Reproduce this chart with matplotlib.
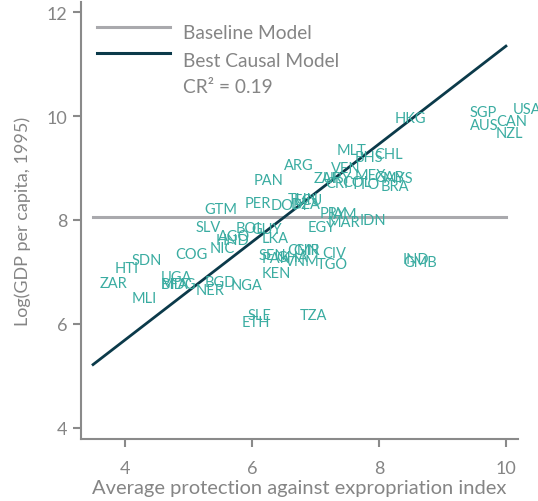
import matplotlib
matplotlib.use("Agg")
import matplotlib.pyplot as plt
from matplotlib.lines import Line2D

plt.rcParams['font.family'] = ['Lato', 'DejaVu Sans']

countries = ["AGO","ARG","AUS","BFA","BGD","BHS","BOL","BRA","CAN","CHL","CIV","CMR","COG","COL",
             "CRI","DOM","DZA","ECU","EGY","ETH","GAB","GHA","GIN","GMB","GTM","GUY","HKG","HND",
             "HTI","IDN","IND","JAM","KEN","LKA","MAR","MDG","MEX","MLI","MLT","MYS","NER","NGA",
             "NIC","NZL","PAK","PAN","PER","PRY","SDN","SEN","SGP","SLE","SLV","TGO","TTO","TUN",
             "TZA","UGA","URY","USA","VEN","VNM","ZAF","ZAR"]
avexpr = [5.36,6.39,9.32,4.45,5.14,7.50,5.64,7.91,9.73,7.82,7.00,6.45,4.68,7.32,
          7.05,6.18,6.50,6.55,6.77,5.73,7.82,6.27,6.55,8.27,5.14,5.89,8.14,5.32,
          3.73,7.59,8.27,7.09,6.05,6.05,7.09,4.45,7.50,4.00,7.23,7.95,5.00,5.55,
          5.23,9.73,6.05,5.91,5.77,6.95,4.00,6.00,9.32,5.82,5.00,6.91,7.45,6.45,
          6.64,4.45,7.00,10.00,7.14,6.41,6.86,3.50]
logpgp95 = [7.77,9.13,9.90,6.85,6.88,9.29,7.93,8.73,9.99,9.34,7.44,7.50,7.42,8.81,
            8.79,8.36,8.39,8.47,7.95,6.11,8.90,7.37,7.49,7.27,8.29,7.90,10.05,7.69,
            7.15,8.07,7.33,8.19,7.06,7.73,8.04,6.84,8.94,6.57,9.43,8.89,6.73,6.82,
            7.54,9.76,7.35,8.84,8.40,8.21,7.31,7.40,10.15,6.25,7.95,7.22,8.77,8.48,
            6.25,6.97,8.89,10.22,9.07,7.28,8.89,6.87]

baseline_value = 8.06
iv_intercept = 1.91
iv_slope = 0.944
line_x = [3.5, 10.0]
cr2 = 0.19

label_color = '#3aaca1'
gray_line = '#a9a9ad'
dark_line = '#0b3a4a'
axis_gray = '#8a8a8a'
text_gray = '#858585'

fig = plt.figure(figsize=(5.38, 5.02), dpi=100)
ax = fig.add_axes([81/538, 1-440/502, 437/538, 437/502])

ax.plot(line_x, [baseline_value, baseline_value], color=gray_line, lw=2.2, zorder=2)
ax.plot(line_x, [iv_intercept + iv_slope*x for x in line_x], color=dark_line, lw=2.0, zorder=3)

for c, xv, yv in zip(countries, avexpr, logpgp95):
    ax.annotate(c, (xv, yv), xytext=(7, -4), textcoords='offset pixels',
                ha='left', va='center', fontsize=10.5, color=label_color, zorder=4,
                annotation_clip=False)

ax.set_xlim(3.31, 10.19)
ax.set_ylim(3.78, 12.2)
ax.set_xticks([4, 6, 8, 10])
ax.set_yticks([4, 6, 8, 10, 12])

for s in ['top', 'right']:
    ax.spines[s].set_visible(False)
for s in ['left', 'bottom']:
    ax.spines[s].set_color(axis_gray)
    ax.spines[s].set_linewidth(1.5)
ax.tick_params(axis='both', colors=axis_gray, labelcolor=text_gray, labelsize=13,
               length=6, width=1.5, direction='out')
ax.tick_params(axis='x', pad=9)
ax.tick_params(axis='y', pad=4)

ax.set_xlabel("Average protection against expropriation index", fontsize=14.5,
              color=text_gray, labelpad=2)
ax.set_ylabel("Log(GDP per capita, 1995)", fontsize=13, color=text_gray, labelpad=11)

# legend (manual)
tr = ax.transAxes
ax.add_line(Line2D([0.0366, 0.2037], [0.9428, 0.9428], transform=tr, color=gray_line, lw=2.2))
ax.add_line(Line2D([0.0366, 0.2037], [0.8833, 0.8833], transform=tr, color=dark_line, lw=2.2))
ax.text(0.2334, 0.9300, "Baseline Model", transform=tr, fontsize=13.8, color=text_gray, va='center', ha='left')
ax.text(0.2334, 0.8655, "Best Causal Model", transform=tr, fontsize=13.8, color=text_gray, va='center', ha='left')
ax.text(0.2334, 0.8070, f"CR² = {cr2:.2f}", transform=tr, fontsize=13.8, color=text_gray, va='center', ha='left')

fig.savefig("out.png", dpi=100)
